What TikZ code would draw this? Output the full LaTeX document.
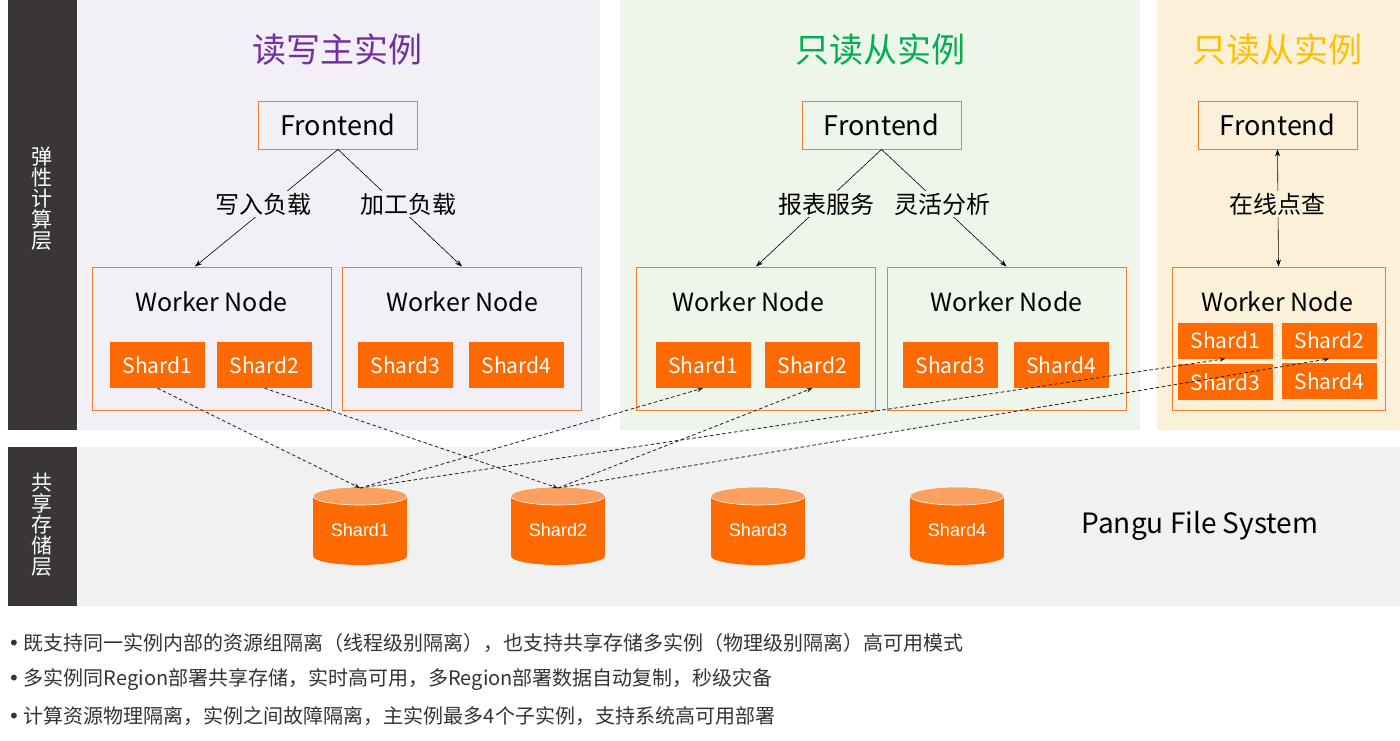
\documentclass[tikz,border=0pt]{standalone}
\usepackage{fontspec}
\setmainfont{Noto Sans CJK SC}
\newfontfamily\arialf{Liberation Sans}
\newfontfamily\dejavu{DejaVu Sans}
\usetikzlibrary{arrows.meta}
\definecolor{purpbg}{HTML}{F3EFF6}
\definecolor{greenbg}{HTML}{EEF5EA}
\definecolor{yelbg}{HTML}{FDF0D9}
\definecolor{graybg}{HTML}{F1F1F1}
\definecolor{sidec}{HTML}{3A3637}
\definecolor{ptitle}{HTML}{7030A0}
\definecolor{gtitle}{HTML}{00B050}
\definecolor{ytitle}{HTML}{FFC000}
\definecolor{orng}{HTML}{FF6A00}
\definecolor{oborder}{HTML}{ED7D31}
\definecolor{cyltop}{HTML}{FAA060}
\definecolor{txtgray}{HTML}{333333}
\newcommand{\fs}[1]{\fontsize{#1}{#1}\selectfont}
\newcommand{\bul}{{\dejavu •}\hspace{4pt}}
\newcommand{\mycyl}[3]{%
  \fill[orng] (#1-47,496) rectangle (#1+47,556);
  \fill[orng] (#1,556) ellipse [x radius=47, y radius=9];
  \fill[cyltop, draw=white, line width=0.6pt] (#1,496) ellipse [x radius=47, y radius=9];
  \node[cyltext] (#2) at (#1,530) {#3};
  \coordinate (#2t) at (#1,488);}
\begin{document}
\begin{tikzpicture}[x=1pt,y=-1pt,
  sidetext/.style={text=white, font=\fs{21}, align=center, inner sep=0pt},
  title/.style={font=\fs{34}, inner sep=0pt},
  fe/.style={draw=oborder, line width=0.9pt, minimum width=159pt, minimum height=48pt, font=\fs{27}, inner sep=0pt},
  wbox/.style={draw=oborder, line width=0.9pt, minimum width=239pt, minimum height=143pt, inner sep=0pt},
  wtext/.style={font=\fs{25}, inner sep=0pt},
  shardbox/.style={fill=orng, text=white, minimum width=95pt, minimum height=46pt, font=\fs{21}, inner sep=0pt},
  shardsm/.style={shardbox, minimum height=36pt},
  lab/.style={font=\fs{24}, inner sep=2pt},
  conn/.style={line width=0.6pt, black, -{Stealth[length=7pt,width=5pt]}},
  dasharrow/.style={line width=0.85pt, draw=black!85, dash pattern=on 3.5pt off 2.5pt, -{Stealth[length=6pt,width=4.5pt]}},
  cyltext/.style={text=white, font=\arialf\fs{18}, inner sep=0pt},
  bullet/.style={anchor=west, text=txtgray, font=\fs{20}, inner sep=0pt}]
\useasboundingbox (0,0) rectangle (1400,741);
\fill[white] (0,0) rectangle (1400,741);
% panels
\fill[purpbg] (78,0) rectangle (600,430);
\fill[greenbg] (620,0) rectangle (1140,430);
\fill[yelbg] (1157,0) rectangle (1400,430);
\fill[graybg] (78,447) rectangle (1400,606);
\fill[sidec] (8,0) rectangle (77,430);
\fill[sidec] (8,447) rectangle (77,606);
\node[sidetext] (side1) at (42,199) {弹\\性\\计\\算\\层};
\node[sidetext] (side2) at (42,525) {共\\享\\存\\储\\层};
% titles
\node[title, text=ptitle] (t1) at (337,50) {读写主实例};
\node[title, text=gtitle] (t2) at (880,50) {只读从实例};
\node[title, text=ytitle] (t3) at (1277,50) {只读从实例};
% frontends
\node[fe] (f1) at (338,125) {Frontend};
\node[fe] (f2) at (881.5,125) {Frontend};
\node[fe] (f3) at (1277.5,125) {Frontend};
% worker boxes
\node[wbox] (w1) at (211.5,338.5) {};
\node[wbox] (w2) at (462,338.5) {};
\node[wbox] (w3) at (756,338.5) {};
\node[wbox] (w4) at (1006.5,338.5) {};
\node[wbox, minimum width=213pt] (w5) at (1278.5,338.5) {};
\node[wtext] (wt1) at (211.5,302) {Worker Node};
\node[wtext] (wt2) at (462,302) {Worker Node};
\node[wtext] (wt3) at (748,302) {Worker Node};
\node[wtext] (wt4) at (1006.5,302) {Worker Node};
\node[wtext] (wt5) at (1277,302) {Worker Node};
% shards
\node[shardbox] (a1) at (157.5,365) {Shard1};
\node[shardbox] (a2) at (264.5,365) {Shard2};
\node[shardbox] (a3) at (405.5,365) {Shard3};
\node[shardbox] (a4) at (516.5,365) {Shard4};
\node[shardbox] (b1) at (703,365) {Shard1};
\node[shardbox] (b2) at (812.5,365) {Shard2};
\node[shardbox] (b3) at (950.5,365) {Shard3};
\node[shardbox] (b4) at (1061,365) {Shard4};
\node[shardsm] (y1) at (1225.5,340.5) {Shard1};
\node[shardsm] (y2) at (1329.5,340.5) {Shard2};
\node[shardsm] (y3) at (1225.5,382) {Shard3};
\node[shardsm] (y4) at (1329.5,381) {Shard4};
% frontend -> worker connectors
\draw[conn] (f1.south) -- ([xshift=-16.5pt]w1.north);
\draw[conn] (f1.south) -- (w2.north);
\draw[conn] (f2.south) -- (w3.north);
\draw[conn] (f2.south) -- (w4.north);
\draw[line width=0.6pt, {Stealth[length=7pt,width=5pt]}-{Stealth[length=7pt,width=5pt]}] (f3.south) -- (w5.north);
\node[lab, fill=purpbg] (l1) at (263,204) {写入负载};
\node[lab, fill=purpbg] (l2) at (408,204) {加工负载};
\node[lab, fill=greenbg] (l3) at (826,204) {报表服务};
\node[lab, fill=greenbg] (l4) at (942,204) {灵活分析};
\node[lab, fill=yelbg] (l5) at (1277,204) {在线点查};
% cylinders
\mycyl{360}{c1}{Shard1}
\mycyl{558}{c2}{Shard2}
\mycyl{758}{c3}{Shard3}
\mycyl{957}{c4}{Shard4}
\node[font=\fs{28}, inner sep=0pt] (pangu) at (1200,526) {Pangu File System};
% dashed replication arrows
\draw[dasharrow] (a1.south) -- (c1t);
\draw[dasharrow] (a2.south) -- (c2t);
\draw[dasharrow] (c1t) -- (b1.south);
\draw[dasharrow] (c2t) -- (b2.south);
\draw[dasharrow] (c1t) -- (y1.south);
\draw[dasharrow] (c2t) -- (y2.south);
% bullets
\node[bullet] (n1) at (8,643) {\bul 既支持同一实例内部的资源组隔离（线程级别隔离），也支持共享存储多实例（物理级别隔离）高可用模式};
\node[bullet] (n2) at (8,680) {\bul 多实例同Region部署共享存储，实时高可用，多Region部署数据自动复制，秒级灾备};
\node[bullet] (n3) at (8,716) {\bul 计算资源物理隔离，实例之间故障隔离，主实例最多4个子实例，支持系统高可用部署};
\end{tikzpicture}
\end{document}
